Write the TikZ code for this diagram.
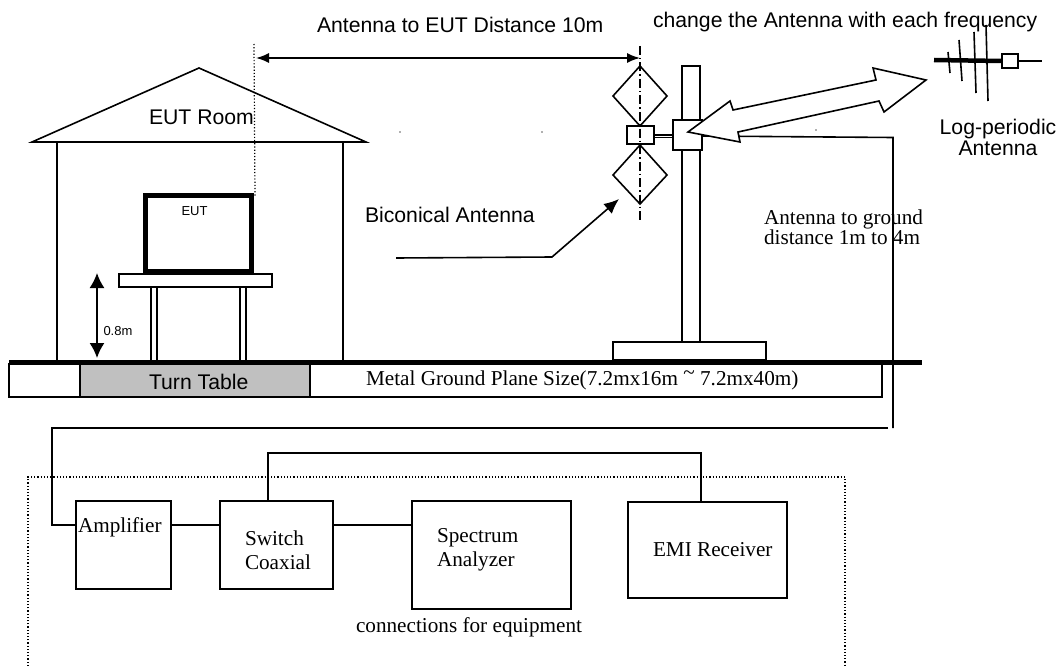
\documentclass[tikz,border=0pt]{standalone}
\usepackage{fontspec}
\usepackage{xcolor}
\setmainfont{Liberation Sans}
\newfontfamily\timesface{Liberation Serif}
\usetikzlibrary{arrows.meta}
\definecolor{table-gray}{HTML}{C0C0C0}
\definecolor{speck-gray}{HTML}{B0B0B0}
\newcommand{\sanslabel}{\fontsize{21.2}{21}\selectfont}
\newcommand{\smalllabel}{\fontsize{13}{14}\selectfont}
\newcommand{\serlabel}{\timesface\fontsize{21.2}{20.5}\selectfont}
\tikzset{
  boxnode/.style={draw, line width=1.6pt, inner sep=0pt, outer sep=0pt, anchor=north west},
  textnode/.style={inner sep=0pt, outer sep=0pt, anchor=west, text=black},
  wire/.style={line width=1.6pt},
  dotline/.style={line width=1.2pt, dotted}
}

\begin{document}
\begin{tikzpicture}[x=1pt, y=-1pt, line join=miter]
    \useasboundingbox (0,0) rectangle (1064,666);

    % house and table
    \draw[wire] (57,142) -- (57,360);
    \draw[wire] (343,142) -- (343,360);
    \draw[wire] (32,142) -- (199,68) -- (366,142) -- cycle;
    \node[textnode, font=\sanslabel] (room) at (149,117) {EUT Room};
    \draw[line width=5pt] (145.5,195.5) rectangle (251.5,271);
    \node[textnode, font=\smalllabel] (eut) at (181.5,211) {EUT};
    \node[boxnode, minimum width=153pt, minimum height=13pt] (tabletop) at (119,274) {};
    \draw[wire] (151,287) -- (151,360) (157,287) -- (157,360);
    \draw[wire] (240,287) -- (240,360) (246,287) -- (246,360);
    \coordinate (tabletip) at (97,273);
    \coordinate (tablefoot) at (97,358);
    \draw[{Latex[length=15pt,width=15pt]}-{Latex[length=15pt,width=15pt]}, wire] (tabletip) -- (tablefoot);
    \node[textnode, font=\smalllabel] (height) at (103.5,331) {0.8m};

    % ground plane
    \node[boxnode, minimum width=873pt, minimum height=33pt] (plane) at (9,364) {};
    \node[boxnode, fill=table-gray, minimum width=230pt, minimum height=33pt] (turn) at (80,364) {};
    \node[textnode, font=\sanslabel] (turnlabel) at (149,382) {Turn Table};
    \node[textnode, font=\serlabel] (planelabel) at (366,380)
      {Metal Ground Plane Size(7.2mx16m \raisebox{6pt}{\~{}} 7.2mx40m)};
    \draw[line width=5pt] (9,362) -- (922,362);

    % distance from EUT to antenna
    \draw[dotline] (254,44) -- (255,197);
    \draw[line width=2pt, dash pattern=on 9pt off 3pt on 1.5pt off 3pt] (640,46) -- (640,220);
    \coordinate (disteut) at (256,58);
    \coordinate (distant) at (640,58);
    \draw[{Latex[length=13pt,width=10pt]}-{Latex[length=13pt,width=10pt]}, wire] (disteut) -- (distant);
    \node[textnode, font=\sanslabel] (distlabel) at (317,25) {Antenna to EUT Distance 10m};
    \node[textnode, font=\sanslabel] (changelabel) at (653,22) {change the Antenna with each frequency};

    % mast and biconical antenna
    \draw[wire] (640,66) -- (667,96) -- (640,126) -- (613,96) -- cycle;
    \draw[wire] (640,145) -- (667,175) -- (640,204) -- (613,175) -- cycle;
    \node[boxnode, minimum width=27pt, minimum height=18pt] (feed) at (627,126) {};
    \draw[wire] (682,66) rectangle (700,342);
    \node[boxnode, fill=white, minimum width=29pt, minimum height=30pt] (clamp) at (673,120) {};
    \draw[wire] (feed.east |- 0,135) -- (clamp.west |- 0,135);
    \draw[wire] (feed.east |- 0,137.5) -- (clamp.west |- 0,137.5);
    \node[boxnode, minimum width=153pt, minimum height=18pt] (base) at (613,342) {};
    \coordinate (biconstart) at (396,258);
    \coordinate (biconbend) at (552,257);
    \coordinate (bicontip) at (619,199);
    \draw[-{Latex[length=15pt,width=13pt]}, wire] (biconstart) -- (biconbend) -- (bicontip);
    \node[textnode, font=\sanslabel] (biconlabel) at (365,215) {Biconical Antenna};

    % cable down to the receiving side
    \coordinate (cabletop) at (893,137.5);
    \coordinate (cablelow) at (893,428);
    \coordinate (ampwire) at (52,428);
    \coordinate (ampbend) at (52,525);
    \draw[wire] (clamp.east |- 0,136) -- (cabletop) -- (cablelow);
    \draw[wire] (888,428) -- (ampwire) -- (ampbend) -- (76,525);
    \filldraw[fill=white, line width=1.6pt]
      (926,80) -- (873,68) -- (876,80) -- (733,110) -- (730,101) -- (688,132)
      -- (740,142) -- (738,132) -- (879,101) -- (884,112) -- cycle;
    \node[textnode, align=left, font=\serlabel] (ground) at (764,227) {Antenna to ground\\ distance 1m to 4m};

    % log-periodic antenna
    \draw[line width=4.5pt] (934,60) -- (1002,61);
    \draw[line width=2.5pt] (1018,61) -- (1042,61);
    \draw[wire] (948,52) -- (950,73);
    \draw[wire] (959,40) -- (962,81);
    \draw[wire] (974,32) -- (976,93);
    \draw[wire] (986,25) -- (988,101);
    \node[boxnode, fill=white, minimum width=16pt, minimum height=14pt] (logbox) at (1002,54) {};
    \node[textnode, align=center, anchor=center, font=\sanslabel] (loglabel) at (998,137.5)
      {Log-periodic\\ Antenna};

    % equipment
    \draw[dotline] (28,666) -- (28,477) -- (845,477) -- (845,666);
    \node[boxnode, fill=white, minimum width=95pt, minimum height=88pt] (amplifier) at (76,501) {};
    \node[boxnode, fill=white, minimum width=113pt, minimum height=88pt] (switch) at (220,501) {};
    \node[boxnode, fill=white, minimum width=159pt, minimum height=108pt] (spectrum) at (412,501) {};
    \node[boxnode, fill=white, minimum width=159pt, minimum height=96pt] (receiver) at (628,502) {};
    \draw[wire] (amplifier.east |- 0,525) -- (switch.west |- 0,525);
    \draw[wire] (switch.east |- 0,525) -- (spectrum.west |- 0,525);
    \coordinate (linktop) at (268,453);
    \coordinate (linkend) at (701,453);
    \draw[wire] (268,501) -- (linktop) -- (linkend) -- (701,502);
    \node[textnode, font=\serlabel] (amplabel) at (78,527) {Amplifier};
    \node[textnode, align=left, font=\serlabel] (swlabel) at (245,550) {Switch\\[4pt] Coaxial};
    \node[textnode, align=left, font=\serlabel] (splabel) at (437,550) {Spectrum\\[4pt] Analyzer};
    \node[textnode, font=\serlabel] (emilabel) at (653,550) {EMI Receiver};
    \node[textnode, font=\serlabel] (connlabel) at (356,627) {connections for equipment};

    \foreach \x/\y in {399/131, 541/131, 815/129}
      \fill[speck-gray] (\x,\y) rectangle (\x+1.5,\y+1.5);
\end{tikzpicture}
\end{document}
